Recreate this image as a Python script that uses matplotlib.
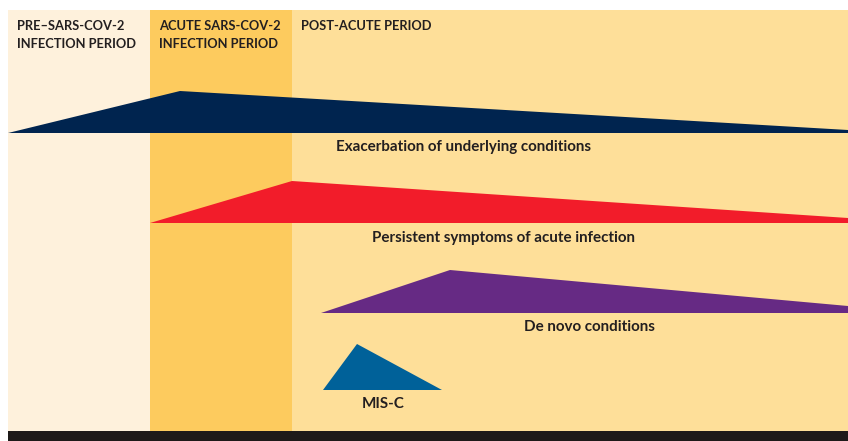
import matplotlib
matplotlib.use("Agg")
import matplotlib.pyplot as plt
from matplotlib.patches import Polygon, Rectangle

plt.rcParams['font.family'] = ['Lato', 'DejaVu Sans']

# periods (x extent on the time axis)
periods = ["PRE\u2013SARS-COV-2\nINFECTION PERIOD", "ACUTE SARS-COV-2\nINFECTION PERIOD", "POST-ACUTE PERIOD"]
period_start = [8, 150, 292]
period_end = [150, 292, 848]
period_colors = ["#FEF1DC", "#FDCB5E", "#FEDF99"]

# conditions: onset, peak, end of shape, baseline level, peak level, end level
conditions = ["Exacerbation of underlying conditions", "Persistent symptoms of acute infection",
              "De novo conditions", "MIS-C"]
onset_x = [8, 150, 321, 323]
peak_x = [180, 292, 450, 357]
end_x = [848, 848, 848, 442]
base_y = [133, 223, 313, 390]
peak_y = [91, 181, 270, 344]
end_y = [130, 218, 306, 390]
label_x = [463, 504, 589, 383]
label_y = [147, 238, 327, 404]
cond_colors = ["#00244F", "#F21C2A", "#662A84", "#006199"]

fig = plt.figure(figsize=(8.48, 4.41), dpi=100)
ax = fig.add_axes([0, 0, 1, 1])
ax.set_xlim(0, 848)
ax.set_ylim(441, 0)
ax.axis("off")

for name, x0, x1, c in zip(periods, period_start, period_end, period_colors):
    ax.add_patch(Rectangle((x0, 10), x1 - x0, 431, color=c, lw=0, zorder=0))
    ax.text(x0 + 9, 20, name, fontsize=9.3, fontweight="bold", color="#231F20",
            va="top", ha="left", linespacing=1.6)

for i in range(len(conditions)):
    pts = [(onset_x[i], base_y[i]), (peak_x[i], peak_y[i]), (end_x[i], end_y[i]), (end_x[i], base_y[i])]
    ax.add_patch(Polygon(pts, closed=True, color=cond_colors[i], lw=0, zorder=2))
    ax.text(label_x[i], label_y[i], conditions[i], fontsize=10.9, fontweight="bold",
            color="#231F20", ha="center", va="center")

ax.add_patch(Rectangle((8, 431), 840, 10, color="#1E1A19", lw=0, zorder=3))

fig.savefig("out.png", dpi=100)
